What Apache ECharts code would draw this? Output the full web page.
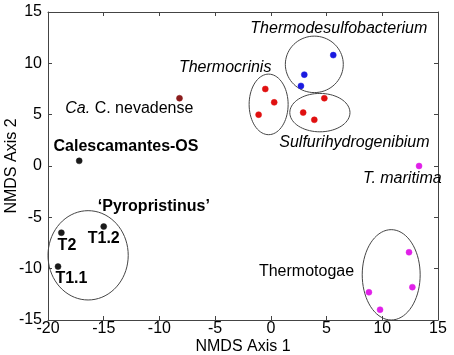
<!DOCTYPE html>
<html>
<head>
<meta charset="utf-8">
<script src="https://cdn.jsdelivr.net/npm/echarts@6/dist/echarts.min.js"></script>
<style>
  html, body { margin: 0; padding: 0; background: #fff; }
  #chart { width: 454px; height: 355px; }
</style>
</head>
<body>
<div id="chart"></div>
<script>
  // NMDS scores
  var pyroPts = [[-18.8, -6.5], [-15.0, -5.9], [-19.1, -9.8]];
  var calesPts = [[-17.2, 0.5]];
  var nevadensePts = [[-8.2, 6.6]];
  var thermocrinisPts = [[-0.5, 7.5], [0.3, 6.2], [-1.1, 5.0]];
  var sulfuriPts = [[2.9, 5.2], [3.9, 4.5], [4.8, 6.6]];
  var desulfoPts = [[5.6, 10.8], [3.0, 8.9], [2.7, 7.8]];
  var maritimaPts = [[13.3, 0.0]];
  var thermotogaePts = [[12.4, -8.4], [12.7, -11.8], [8.8, -12.3], [9.8, -14.0]];

  var xTicks = [-20, -15, -10, -5, 0, 5, 10, 15];
  var yTicks = [-15, -10, -5, 0, 5, 10, 15];

  // group ellipses: center x, center y, radius x, radius y (data units)
  var ellipses = [
    [-16.4, -8.7, 3.6, 4.35],
    [-0.2, 6.0, 1.75, 2.95],
    [3.9, 9.9, 2.6, 2.75],
    [4.4, 5.2, 2.7, 1.87],
    [10.8, -10.6, 2.6, 4.4]
  ];

  // text annotations: x, y, text
  var labels = [
    [6.1, 13.4, '{i|Thermodesulfobacterium}'],
    [-4.1, 9.6, '{i|Thermocrinis}'],
    [-12.7, 5.6, '{i|Ca.} C. nevadense'],
    [-13.0, 1.9, '{b|Calescamantes-OS}'],
    [7.5, 2.3, '{i|Sulfurihydrogenibium}'],
    [11.8, -1.2, '{i|T. maritima}'],
    [-10.5, -4.0, '{b|\u2018Pyropristinus\u2019}'],
    [-18.3, -7.8, '{b|T2}'],
    [-15.0, -7.1, '{b|T1.2}'],
    [-17.9, -11.0, '{b|T1.1}'],
    [3.2, -10.3, 'Thermotogae']
  ];

  var FONT = '"Liberation Sans", Arial, sans-serif';
  var FS = 16;
  var chart = echarts.init(document.getElementById('chart'));

  function dots(name, data, color) {
    return {
      name: name,
      type: 'scatter',
      data: data,
      symbolSize: 6,
      itemStyle: { color: color, borderColor: color, borderWidth: 0.5, opacity: 1 },
      z: 5
    };
  }

  var axisCommon = {
    type: 'value',
    interval: 5,
    axisLine: { show: true, onZero: false, lineStyle: { color: '#444', width: 1 } },
    axisTick: { show: true, inside: true, length: 4, lineStyle: { color: '#444' } },
    splitLine: { show: false }
  };

  chart.setOption({
    animation: false,
    textStyle: { fontFamily: FONT },
    grid: { left: 48, right: 16, top: 12, bottom: 35, containLabel: false, outerBoundsMode: 'none' },
    xAxis: [
      Object.assign({}, axisCommon, {
        min: xTicks[0], max: xTicks[xTicks.length - 1],
        position: 'bottom',
        name: 'NMDS Axis 1', nameLocation: 'middle', nameGap: 19, nameMoveOverlap: false,
        nameTextStyle: { color: '#000', fontSize: FS, fontFamily: FONT },
        axisLabel: { color: '#000', fontSize: FS, margin: 1, fontFamily: FONT }
      }),
      Object.assign({}, axisCommon, {
        min: xTicks[0], max: xTicks[xTicks.length - 1],
        position: 'top', axisLabel: { show: false }
      })
    ],
    yAxis: [
      Object.assign({}, axisCommon, {
        min: yTicks[0], max: yTicks[yTicks.length - 1],
        position: 'left',
        name: 'NMDS Axis 2', nameLocation: 'middle', nameGap: 28, nameMoveOverlap: false,
        nameTextStyle: { color: '#000', fontSize: FS, fontFamily: FONT },
        axisLabel: { color: '#000', fontSize: FS, margin: 6, fontFamily: FONT }
      }),
      Object.assign({}, axisCommon, {
        min: yTicks[0], max: yTicks[yTicks.length - 1],
        position: 'right', axisLabel: { show: false }
      })
    ],
    series: [
      {
        type: 'custom',
        data: ellipses,
        silent: true,
        z: 2,
        renderItem: function (params, api) {
          var cx = api.value(0), cy = api.value(1), rx = api.value(2), ry = api.value(3);
          var pts = [];
          for (var k = 0; k < 72; k++) {
            var t = k / 72 * Math.PI * 2;
            pts.push(api.coord([cx + rx * Math.cos(t), cy + ry * Math.sin(t)]));
          }
          return {
            type: 'polygon',
            shape: { points: pts },
            style: { fill: 'none', stroke: '#444', lineWidth: 1 }
          };
        }
      },
      {
        type: 'custom',
        data: labels,
        silent: true,
        z: 6,
        renderItem: function (params, api) {
          var p = api.coord([api.value(0), api.value(1)]);
          return {
            type: 'text',
            x: p[0], y: p[1],
            style: {
              text: labels[params.dataIndex][2],
              fill: '#000',
              fontSize: FS,
              fontFamily: FONT,
              align: 'center',
              verticalAlign: 'middle',
              rich: {
                i: { fontStyle: 'italic', fontSize: FS, fontFamily: FONT },
                b: { fontWeight: 'bold', fontSize: FS, fontFamily: FONT }
              }
            }
          };
        }
      },
      dots('Pyropristinus', pyroPts, '#1a1a1a'),
      dots('Calescamantes-OS', calesPts, '#1a1a1a'),
      dots('Ca. C. nevadense', nevadensePts, '#8b1c1c'),
      dots('Thermocrinis', thermocrinisPts, '#e01010'),
      dots('Sulfurihydrogenibium', sulfuriPts, '#e01010'),
      dots('Thermodesulfobacterium', desulfoPts, '#1a1ae0'),
      dots('T. maritima', maritimaPts, '#e020e8'),
      dots('Thermotogae', thermotogaePts, '#e020e8')
    ]
  });
</script>
</body>
</html>
